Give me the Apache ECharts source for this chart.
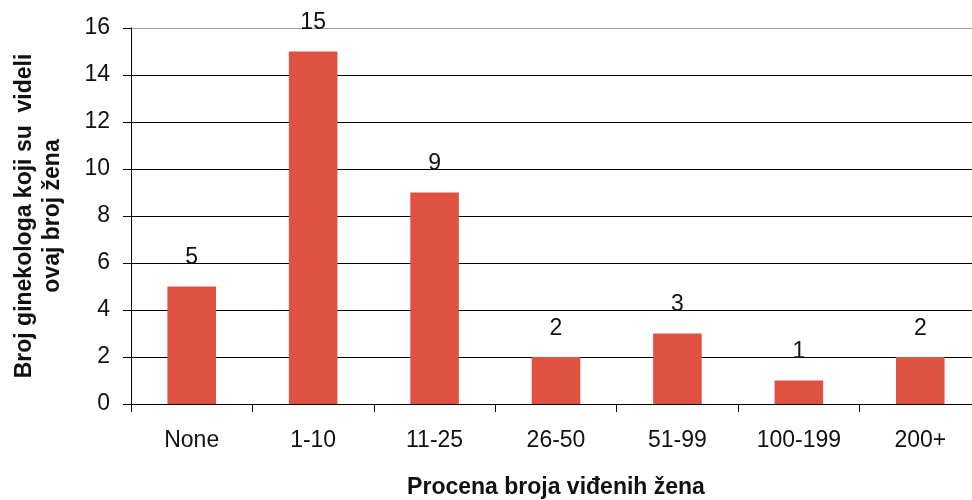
<!DOCTYPE html>
<html><head><meta charset="utf-8">
<script src="https://cdn.jsdelivr.net/npm/echarts@6/dist/echarts.min.js"></script>
<style>html,body{margin:0;padding:0;background:#fff}#c{width:972px;height:500px}</style>
</head><body><div id="c"></div>
<script>
const categories = ["None","1-10","11-25","26-50","51-99","100-199","200+"];
const values = [5,15,9,2,3,1,2];
const yTicks = [0,2,4,6,8,10,12,14,16];
const xTitle = "Procena broja viđenih žena";
const yTitle = "Broj ginekologa koji su  videli\novaj broj žena";

const chart = echarts.init(document.getElementById('c'));
const font = "'Liberation Sans', Arial, sans-serif";
const gridColors = yTicks.map((v,i)=> i===yTicks.length-1 ? '#9a9a9a' : '#000');
chart.setOption({
  animation:false,
  grid:{left:131,right:-9,top:28,bottom:96,outerBoundsMode:'none',containLabel:false},
  xAxis:{
    type:'category', data:categories,
    axisLine:{lineStyle:{color:'#000',width:1}},
    axisTick:{show:true,length:8,lineStyle:{color:'#000'}},
    axisLabel:{color:'#111',fontFamily:font,fontSize:23,margin:25},
    name:xTitle, nameLocation:'middle', nameGap:72,
    nameTextStyle:{color:'#111',fontFamily:font,fontSize:23,fontWeight:'bold'}
  },
  yAxis:{
    type:'value', min:0, max:16, interval:2,
    axisLine:{show:true,lineStyle:{color:'#000',width:1}},
    axisTick:{show:true,length:8,lineStyle:{color:'#000'}},
    axisLabel:{color:'#111',fontFamily:font,fontSize:23,margin:21,
      formatter:v=>yTicks.includes(v)?String(v):''},
    splitLine:{show:true,lineStyle:{color:gridColors,width:1}},
    name:yTitle, nameLocation:'middle', nameGap:64, nameRotate:90,
    nameTextStyle:{color:'#111',fontFamily:font,fontSize:23,fontWeight:'bold',lineHeight:28}
  },
  series:[{
    type:'bar', data:values, barWidth:'40%',
    itemStyle:{color:'#DF5140'},
    label:{show:true,position:'top',distance:17,color:'#111',fontFamily:font,fontSize:23}
  }]
});
</script></body></html>
